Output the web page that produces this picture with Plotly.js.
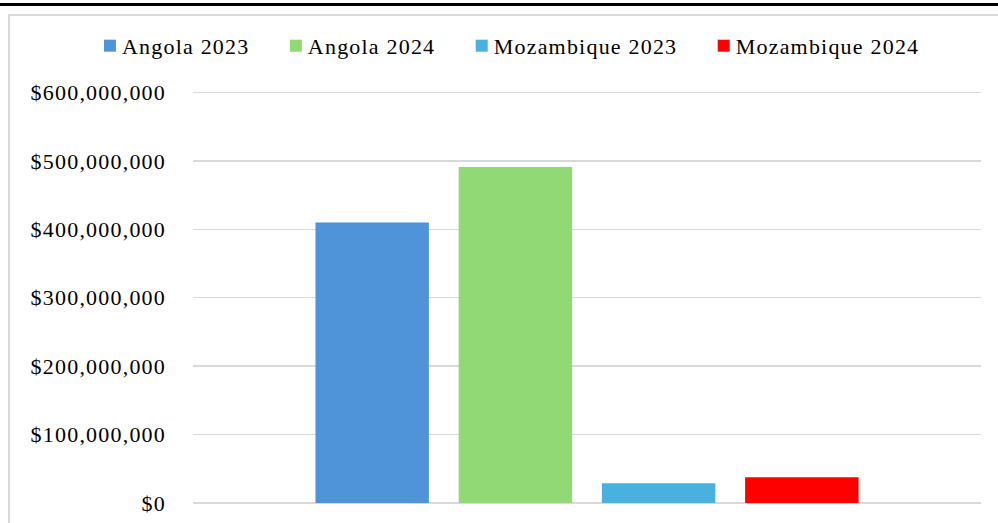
<!DOCTYPE html>
<html>
<head>
<meta charset="utf-8">
<script src="https://cdn.plot.ly/plotly-3.0.1.min.js"></script>
<style>
  html, body { margin: 0; padding: 0; background: #fff; }
  #wrap { position: relative; width: 998px; height: 523px; overflow: hidden; }
  #chart { position: absolute; left: 0; top: 0; width: 998px; height: 523px; }
  #topline { position: absolute; left: 0; top: 3px; width: 998px; height: 2.5px; background: #000; }
  #frame { position: absolute; left: 8px; top: 14px; width: 1030px; height: 540px; border: 2px solid #d9d9d9; box-sizing: border-box; pointer-events: none; }
  .legendtext, .ytick text { letter-spacing: 1.2px; }
  .legendpoints { transform: translate(8px, 0px); }
</style>
</head>
<body>
<div id="wrap">
  <div id="chart"></div>
  <div id="frame"></div>
  <div id="topline"></div>
</div>
<script>
var categories = [""];
var seriesNames = ["Angola 2023", "Angola 2024", "Mozambique 2023", "Mozambique 2024"];
var seriesValues = [
  [410000000],
  [491000000],
  [29000000],
  [37500000]
];
var seriesColors = ["#4f94d8", "#90d974", "#48b1e0", "#ff0000"];
var tickValues = [0, 100000000, 200000000, 300000000, 400000000, 500000000, 600000000];
var tickLabels = ["$0", "$100,000,000", "$200,000,000", "$300,000,000", "$400,000,000", "$500,000,000", "$600,000,000"];

var serif = "Liberation Serif, Times New Roman, serif";
var pad = "\u00a0\u00a0";

var traces = seriesNames.map(function (name, i) {
  return {
    type: "bar",
    name: name + pad,
    x: categories,
    y: seriesValues[i],
    marker: { color: seriesColors[i] },
    hoverinfo: "y+name"
  };
});

var layout = {
  width: 998,
  height: 523,
  margin: { l: 193, r: 17, t: 89.1, b: 20, pad: 0 },
  paper_bgcolor: "#ffffff",
  plot_bgcolor: "#ffffff",
  barmode: "group",
  bargap: 0.273,
  bargroupgap: 0.208,
  showlegend: true,
  legend: {
    orientation: "h",
    x: -0.1409,
    xanchor: "left",
    y: 1.1041, yanchor: "middle",
    font: { family: serif, size: 22, color: "#000" },
    traceorder: "normal",
    itemclick: false
  },
  xaxis: {
    showticklabels: false,
    showgrid: false,
    zeroline: false,
    showline: false,
    ticks: ""
  },
  yaxis: {
    range: [0, 605000000],
    tickmode: "array",
    tickvals: tickValues,
    ticktext: tickLabels,
    tickfont: { family: serif, size: 22, color: "#000" },
    showgrid: true,
    gridcolor: "#d9d9d9",
    gridwidth: 1.5,
    zeroline: true,
    zerolinecolor: "#d9d9d9",
    zerolinewidth: 1.5,
    showline: false,
    ticks: "",
    ticklabelstandoff: 26
  }
};

Plotly.newPlot("chart", traces, layout, { displayModeBar: false, staticPlot: true });
</script>
</body>
</html>
